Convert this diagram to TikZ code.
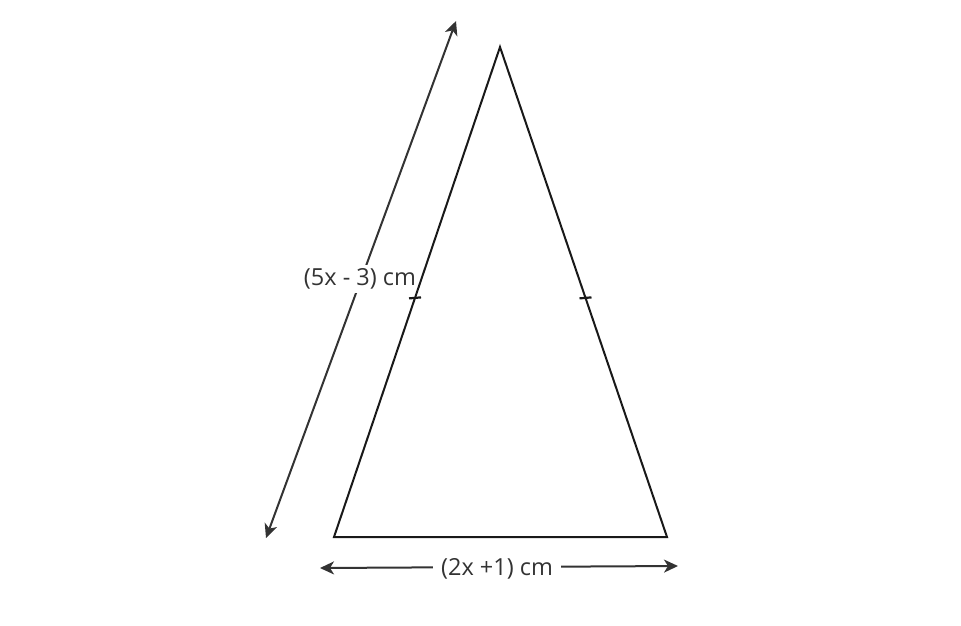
\documentclass[tikz,border=0pt]{standalone}
\usepackage{fontspec}
\setmainfont{Open Sans}
\usetikzlibrary{arrows.meta,calc}
\begin{document}
\begin{tikzpicture}[x=1pt,y=-1pt,
  side/.style={line width=2pt,draw=black!90,line join=miter},
  dim/.style={line width=2pt,draw=black!80,{Stealth[length=14pt,width=13pt,inset=4pt]}-{Stealth[length=14pt,width=13pt,inset=4pt]}},
  lbl/.style={fill=white,inner xsep=8pt,inner ysep=4pt,font=\fontsize{23.5}{27}\selectfont,text=black!80},
  tick/.style={line width=2.2pt,draw=black!90}]
\useasboundingbox (0,0) rectangle (961,625);
\coordinate (A) at (500,47);
\coordinate (B) at (334,537);
\coordinate (C) at (667,537);
\coordinate (L1) at (456,21);
\coordinate (L2) at (266,538);
\coordinate (M1) at (320,568);
\coordinate (M2) at (678,566);
\draw[dim] (L1) -- (L2);
\node[lbl] (ll) at (360,279) {(5x - 3) cm};
\draw[dim] (M1) -- (M2);
\node[lbl] (bl) at (497,569) {(2x +1) cm};
\draw[side] (A) -- (B) -- (C) -- cycle;
\coordinate (T1) at ($(A)!0.512!(B)$);
\coordinate (T2) at ($(A)!0.512!(C)$);
\draw[tick] ([xshift=-6pt,yshift=-0.5pt]T1) -- ([xshift=6pt,yshift=0.5pt]T1);
\draw[tick] ([xshift=-6pt,yshift=-0.5pt]T2) -- ([xshift=6pt,yshift=0.5pt]T2);
\end{tikzpicture}
\end{document}
